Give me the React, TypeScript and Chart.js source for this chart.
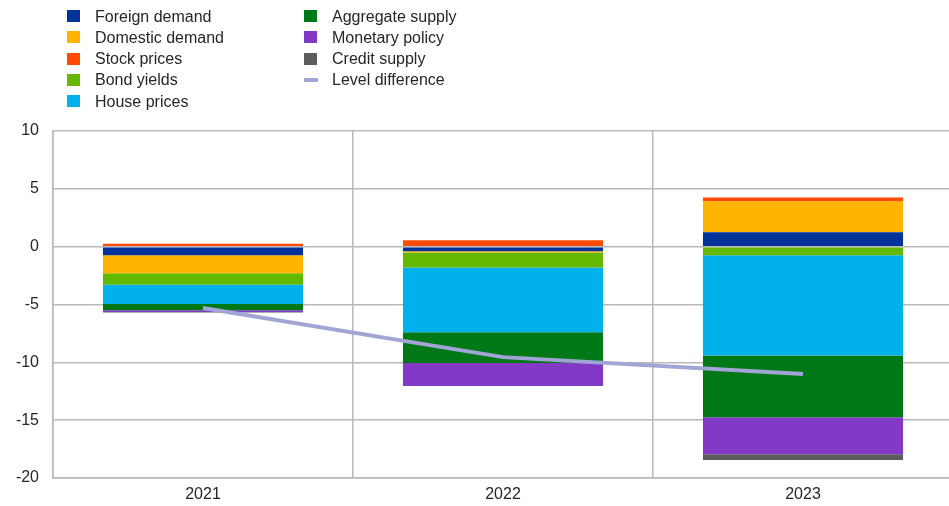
import { useRef, useEffect } from "react";
import { Chart, registerables } from "chart.js";

Chart.register(...registerables);

const years = ["2021", "2022", "2023"];

const foreignDemand = [-0.75, -0.4, 1.25];
const domesticDemand = [-1.55, -0.1, 2.65];
const stockPrices = [0.25, 0.55, 0.35];
const bondYields = [-1.0, -1.3, -0.75];
const housePrices = [-1.65, -5.6, -8.65];
const aggregateSupply = [-0.55, -2.65, -5.35];
const monetaryPolicy = [-0.15, -2.0, -3.2];
const creditSupply = [-0.05, 0, -0.5];
const levelDifference = [-5.3, -9.55, -11.0];

const yTicks = [10, 5, 0, -5, -10, -15, -20];

const FONT = "'Liberation Sans', Arial, sans-serif";
const TEXT = "#262626";
const GRID = "#b8b8b8";

const bars = [
  { label: "Foreign demand", data: foreignDemand, color: "#003299" },
  { label: "Domestic demand", data: domesticDemand, color: "#ffb400" },
  { label: "Stock prices", data: stockPrices, color: "#ff4b00" },
  { label: "Bond yields", data: bondYields, color: "#65b800" },
  { label: "House prices", data: housePrices, color: "#00b1ea" },
  { label: "Aggregate supply", data: aggregateSupply, color: "#007816" },
  { label: "Monetary policy", data: monetaryPolicy, color: "#8139c6" },
  { label: "Credit supply", data: creditSupply, color: "#5c5c5c" },
];
const lineColor = "#a0a5d6";

function Legend() {
  const col1 = bars.slice(0, 5);
  const col2 = bars.slice(5);
  const row = (label: string, swatch: JSX.Element) => (
    <div key={label} style={{ height: 21.3, display: "flex", alignItems: "center" }}>
      <div style={{ width: 28, display: "flex", alignItems: "center" }}>{swatch}</div>
      <span>{label}</span>
    </div>
  );
  const box = (c: string) => <div style={{ width: 13, height: 12, background: c }} />;
  const style = {
    position: "absolute" as const,
    top: 5.5,
    fontFamily: FONT,
    fontSize: 16,
    color: TEXT,
    lineHeight: "21.3px",
    whiteSpace: "nowrap" as const,
  };
  return (
    <>
      <div style={{ ...style, left: 67 }}>{col1.map((b) => row(b.label, box(b.color)))}</div>
      <div style={{ ...style, left: 304 }}>
        {col2.map((b) => row(b.label, box(b.color)))}
        {row(
          "Level difference",
          <div style={{ width: 14, height: 4, background: lineColor }} />
        )}
      </div>
    </>
  );
}

export default function App() {
  const canvasRef = useRef<HTMLCanvasElement | null>(null);

  useEffect(() => {
    if (!canvasRef.current) return;
    const chart = new Chart(canvasRef.current, {
      type: "bar",
      data: {
        labels: years,
        datasets: [
          ...bars.map((b) => ({
            type: "bar" as const,
            label: b.label,
            data: b.data,
            backgroundColor: b.color,
            borderWidth: 0,
            stack: "bars",
            order: 1,
            barPercentage: 0.667,
            categoryPercentage: 1,
          })),
          {
            type: "line" as const,
            label: "Level difference",
            data: levelDifference,
            borderColor: lineColor,
            backgroundColor: lineColor,
            borderWidth: 4,
            pointRadius: 0,
            tension: 0,
            stack: "line",
            order: 0,
          },
        ],
      },
      options: {
        animation: false,
        responsive: false,
        layout: { padding: { top: 131, left: 0, right: 0, bottom: 0 } },
        plugins: { legend: { display: false }, tooltip: { enabled: false } },
        scales: {
          x: {
            stacked: true,
            grid: { color: GRID, lineWidth: 1.5, drawTicks: false, offset: true },
            border: { color: GRID, width: 1.5 },
            ticks: { font: { family: FONT, size: 16 }, color: TEXT, padding: 7 },
            afterFit: (s: any) => {
              s.height = 28;
            },
          },
          y: {
            stacked: true,
            min: -20,
            max: 10,
            afterBuildTicks: (s: any) => {
              s.ticks = yTicks.map((v) => ({ value: v }));
            },
            grid: { color: GRID, lineWidth: 1.5, drawTicks: false },
            border: { color: GRID, width: 1.5 },
            ticks: { font: { family: FONT, size: 16 }, color: TEXT, padding: 14 },
            afterFit: (s: any) => {
              s.width = 53;
            },
          },
        },
      },
    });
    return () => chart.destroy();
  }, []);

  return (
    <div
      style={{
        position: "fixed",
        left: 0,
        top: 0,
        width: 949,
        height: 506,
        overflow: "hidden",
        background: "#fff",
      }}
    >
      <canvas ref={canvasRef} width={953} height={506} style={{ position: "absolute", left: 0, top: 0 }} />
      <Legend />
    </div>
  );
}
